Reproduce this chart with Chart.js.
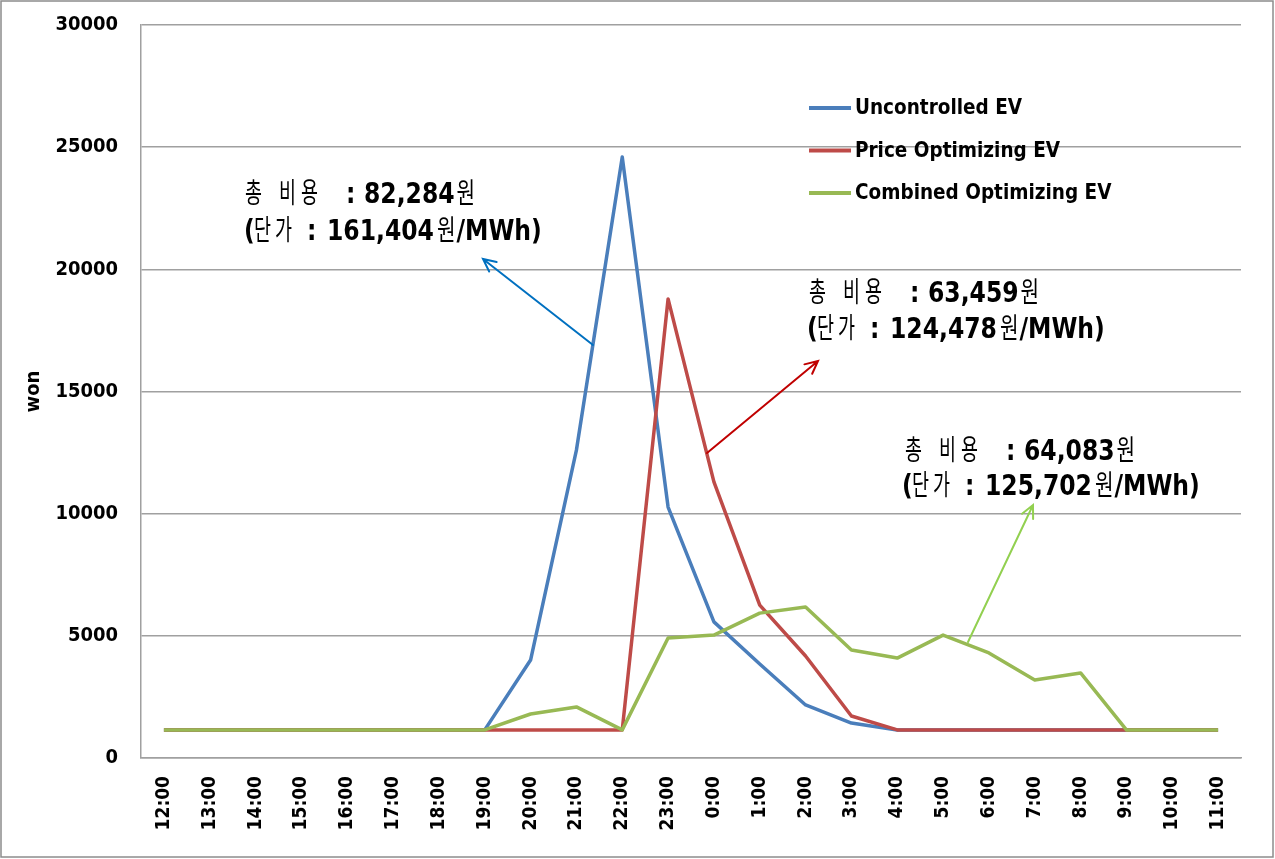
<!DOCTYPE html>
<html>
<head>
<meta charset="utf-8">
<script src="https://cdn.jsdelivr.net/npm/chart.js@4/dist/chart.umd.min.js"></script>
<style>
  html, body { margin: 0; padding: 0; background: #fff; }
  #wrap { width: 1275px; height: 859px; }
</style>
</head>
<body>
<div id="wrap"><canvas id="chart" width="1275" height="859"></canvas></div>
<script>
const hours = ['12:00', '13:00', '14:00', '15:00', '16:00', '17:00', '18:00', '19:00',
    '20:00', '21:00', '22:00', '23:00', '0:00', '1:00', '2:00', '3:00', '4:00',
    '5:00', '6:00', '7:00', '8:00', '9:00', '10:00', '11:00'];

const uncontrolled = [1150, 1150, 1150, 1150, 1150, 1150, 1150, 1150,
    4010, 12600, 24600, 10270, 5570, 3850, 2170, 1430, 1150,
    1150, 1150, 1150, 1150, 1150, 1150, 1150];
const priceOpt = [1150, 1150, 1150, 1150, 1150, 1150, 1150, 1150,
    1150, 1150, 1150, 18790, 11300, 6260, 4175, 1720, 1150,
    1150, 1150, 1150, 1150, 1150, 1150, 1150];
const combinedOpt = [1150, 1150, 1150, 1150, 1150, 1150, 1150, 1150,
    1800, 2090, 1150, 4910, 5030, 5930, 6180, 4420, 4090,
    5030, 4300, 3190, 3480, 1150, 1150, 1150];

const seriesNames = ['Uncontrolled EV', 'Price Optimizing EV', 'Combined Optimizing EV'];
const yTicks = [0, 5000, 10000, 15000, 20000, 25000, 30000];
const totals = ['82,284', '63,459', '64,083'];
const unitPrices = ['161,404', '124,478', '125,702'];

const COLORS = ['#4a7ebb', '#be4b48', '#98b954'];
const TICK_FONT = '"DejaVu Sans Condensed", "DejaVu Sans", sans-serif';
const KR = '28px "Noto Sans CJK KR", sans-serif';
const NUM = 'bold 29px "DejaVu Sans Condensed", "DejaVu Sans", sans-serif';

// where each cost note sits (canvas pixels), and its arrow
const notes = [
    { x: 245, y: 203, x2: 244, y2: 240, arrow: [593, 345, 483, 259], color: '#0070c0' },
    { x: 809, y: 302, x2: 807, y2: 338, arrow: [707, 453, 818, 361], color: '#c00000' },
    { x: 905, y: 460, x2: 902, y2: 495, arrow: [968, 642, 1033, 505], color: '#92d050' }
];

// draw a string squeezed horizontally
function put(ctx, t, x, y, font, sx) {
    ctx.save();
    ctx.font = font;
    ctx.translate(x, y);
    ctx.scale(sx, 1);
    ctx.fillText(t, 0, 0);
    const w = ctx.measureText(t).width * sx;
    ctx.restore();
    return w;
}

function drawNote(ctx, n, total, unit) {
    ctx.fillStyle = '#000';
    // line 1: 총 비용 : xx,xxx원
    put(ctx, '총', n.x, n.y, KR, 0.66);
    put(ctx, '비', n.x + 34, n.y, KR, 0.66);
    put(ctx, '용', n.x + 56, n.y, KR, 0.66);
    put(ctx, ':', n.x + 101, n.y, NUM, 0.9);
    let w = put(ctx, total, n.x + 119, n.y, NUM, 0.9);
    put(ctx, '원', n.x + 121 + w, n.y, KR, 0.72);
    // line 2: (단가: xxx,xxx원/MWh)
    put(ctx, '(', n.x2, n.y2, NUM, 0.9);
    put(ctx, '단', n.x2 + 10, n.y2, KR, 0.66);
    put(ctx, '가', n.x2 + 31, n.y2, KR, 0.66);
    put(ctx, ':', n.x2 + 63, n.y2, NUM, 0.9);
    w = put(ctx, unit, n.x2 + 83, n.y2, NUM, 0.9);
    const w2 = put(ctx, '원', n.x2 + 86 + w, n.y2, KR, 0.72);
    put(ctx, '/MWh)', n.x2 + 87 + w + w2, n.y2, NUM, 0.9);
}

function drawArrow(ctx, a, color) {
    const [x1, y1, x2, y2] = a;
    const ang = Math.atan2(y2 - y1, x2 - x1);
    const len = 14;
    ctx.save();
    ctx.strokeStyle = color;
    ctx.lineWidth = 2;
    ctx.lineCap = 'round';
    ctx.beginPath();
    ctx.moveTo(x1, y1);
    ctx.lineTo(x2, y2);
    ctx.moveTo(x2 - len * Math.cos(ang - 0.45), y2 - len * Math.sin(ang - 0.45));
    ctx.lineTo(x2, y2);
    ctx.lineTo(x2 - len * Math.cos(ang + 0.45), y2 - len * Math.sin(ang + 0.45));
    ctx.stroke();
    ctx.restore();
}

const extras = {
    id: 'extras',
    afterDraw(chart) {
        const ctx = chart.ctx;
        ctx.save();
        // outer frame
        ctx.strokeStyle = '#8c8c8c';
        ctx.lineWidth = 1.5;
        ctx.strokeRect(1, 1, 1272, 856);

        // legend inside the plot
        ctx.textBaseline = 'middle';
        ctx.fillStyle = '#000';
        ctx.font = 'bold 20.5px ' + TICK_FONT;
        seriesNames.forEach(function(name, i) {
            const y = 108 + i * 42.5;
            ctx.strokeStyle = COLORS[i];
            ctx.lineWidth = 4;
            ctx.beginPath();
            ctx.moveTo(809, y);
            ctx.lineTo(851, y);
            ctx.stroke();
            ctx.fillText(name, 855, y + 1);
        });

        ctx.textBaseline = 'alphabetic';
        notes.forEach(function(n, i) {
            drawArrow(ctx, n.arrow, n.color);
            drawNote(ctx, n, totals[i], unitPrices[i]);
        });
        ctx.restore();
    }
};

const chart = new Chart(document.getElementById('chart').getContext('2d'), {
    type: 'line',
    data: {
        labels: hours,
        datasets: [
            { label: seriesNames[0], data: uncontrolled, borderColor: COLORS[0], order: 3 },
            { label: seriesNames[1], data: priceOpt, borderColor: COLORS[1], order: 2 },
            { label: seriesNames[2], data: combinedOpt, borderColor: COLORS[2], order: 1 }
        ]
    },
    options: {
        responsive: false,
        animation: false,
        layout: { padding: { left: 0, right: 34, top: 25, bottom: 0 } },
        elements: {
            line: { borderWidth: 3.5, tension: 0, borderCapStyle: 'butt', borderJoinStyle: 'round' },
            point: { radius: 0 }
        },
        plugins: {
            legend: { display: false },
            tooltip: { enabled: false }
        },
        scales: {
            x: {
                type: 'category',
                offset: true,
                grid: { display: false, drawTicks: false },
                border: { display: true, color: '#a0a0a0', width: 1.5 },
                ticks: {
                    color: '#000',
                    minRotation: 90,
                    maxRotation: 90,
                    autoSkip: false,
                    padding: 18,
                    font: { family: TICK_FONT, size: 19, weight: 'bold' }
                },
                afterFit(scale) { scale.height = 101; scale.paddingTop = 0; }
            },
            y: {
                min: 0,
                max: 30000,
                afterBuildTicks(scale) { scale.ticks = yTicks.map(v => ({ value: v })); },
                grid: { color: '#a0a0a0', lineWidth: 1.5, drawTicks: false },
                border: { display: true, color: '#a0a0a0', width: 1.5 },
                ticks: {
                    color: '#000',
                    padding: 23,
                    callback: v => String(v),
                    font: { family: TICK_FONT, size: 20, weight: 'bold' }
                },
                title: {
                    display: true,
                    text: 'won',
                    color: '#000',
                    padding: { top: 22, bottom: 0 },
                    font: { family: TICK_FONT, size: 20, weight: 'bold' }
                },
                afterFit(scale) { scale.width = 141; scale.paddingTop = 0; }
            }
        }
    },
    plugins: [extras]
});
</script>
</body>
</html>
